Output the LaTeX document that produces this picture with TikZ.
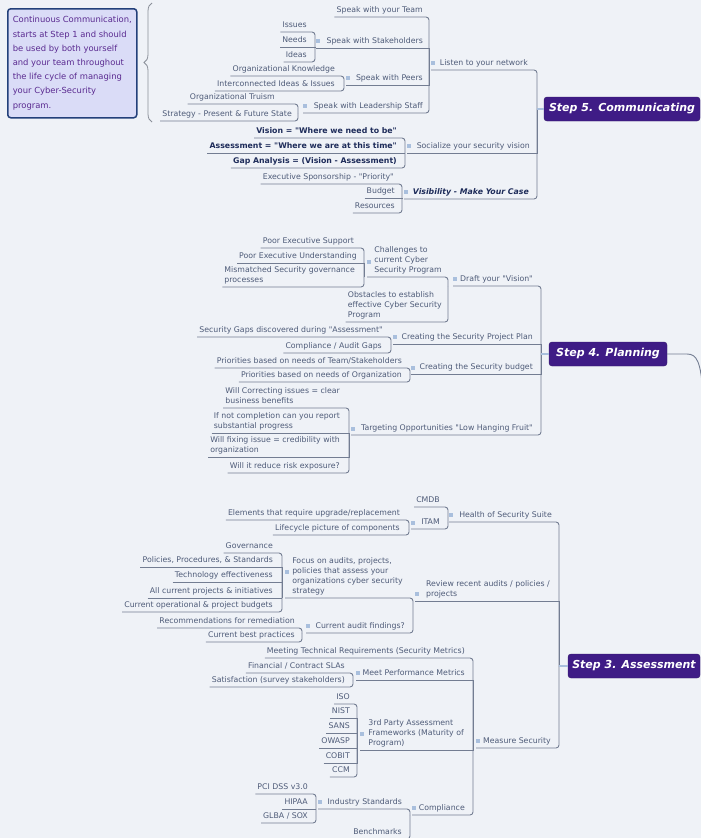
\documentclass[tikz,border=0pt]{standalone}
\usepackage{fontspec}
\usetikzlibrary{decorations.pathreplacing,calc}
\newfontfamily\dvs{DejaVu Sans}
\newcommand\tpfont{\dvs\fontsize{7.8}{10.2}\selectfont}
\newcommand\tbfont{\dvs\bfseries\fontsize{7.8}{10.2}\selectfont}
\newcommand\tbifont{\dvs\bfseries\itshape\fontsize{7.8}{10.2}\selectfont}
\newcommand\stfont{\dvs\bfseries\itshape\fontsize{11}{13}\selectfont}
\newcommand\notefont{\dvs\fontsize{8.4}{14.2}\selectfont}
\definecolor{bgc}{HTML}{EFF2F7}
\definecolor{txt}{HTML}{4E5B78}
\definecolor{btxt}{HTML}{1E2C5A}
\definecolor{lnc}{HTML}{737D92}
\definecolor{mkc}{HTML}{A9BFDD}
\definecolor{stepc}{HTML}{3F1C86}
\definecolor{notec}{HTML}{DADCF7}
\definecolor{noteb}{HTML}{23407A}
\definecolor{notet}{HTML}{5A2A90}
\definecolor{bracec}{HTML}{8A8F99}
\tikzset{
  topic/.style={font=\tpfont, text=txt, inner xsep=2pt, inner ysep=1pt, text depth=3pt, anchor=south east},
  mtopic/.style={font=\tpfont, text=txt, inner xsep=2pt, inner ysep=1pt, align=left, anchor=south east},
  btopic/.style={topic, font=\tbfont, text=btxt},
  bitopic/.style={topic, font=\tbifont, text=btxt},
  mk/.style={fill=mkc, minimum size=3.5pt, inner sep=0pt},
  conn/.style={draw=lnc, line width=0.9pt},
  cend/.style={conn, rounded corners=3pt},
  cmid/.style={conn},
  stub/.style={draw=mkc, line width=2.4pt},
  stepbox/.style={fill=stepc, draw=stepc!80!black, rounded corners=3pt, text=white, font=\stfont, inner sep=0pt, minimum height=24pt},
  notebox/.style={fill=notec, draw=noteb, line width=1.5pt, rounded corners=3pt, text=notet, font=\notefont, align=left, anchor=north west, minimum width=129pt, minimum height=109pt, inner sep=3pt}
}
\begin{document}
\begin{tikzpicture}[x=1pt,y=-1pt]
\useasboundingbox (0,0) rectangle (701,838);
\clip (0,0) rectangle (701,838);
\fill[bgc] (0,0) rectangle (701,838);

% note and brace
\node[notebox] (note) at (7,8) {Continuous Communication,\\starts at Step 1 and should\\be used by both yourself\\and your team throughout\\the life cycle of managing\\your Cyber-Security\\program.};
\coordinate (br-b) at (152,122);
\coordinate (br-t) at (152,3);
\draw[bracec, line width=0.8pt, decorate, decoration={brace, amplitude=8pt}] (br-b) -- (br-t);

% ===== Step 5 =====
\node[stepbox, minimum width=156pt] (s5) at (622,109) {Step 5. Communicating};
\coordinate (s5-v) at (537,109);
\node[topic] (listen) at (530,70) {Listen to your network};
\node[mk] (listen-m) at (433,63) {};
\coordinate (listen-v) at (429,70);
\node[topic] (social) at (532,153) {Socialize your security vision};
\node[mk] (social-m) at (409,146) {};
\coordinate (social-v) at (405,153);
\node[bitopic] (visib) at (531,199) {Visibility - Make Your Case};
\node[mk] (visib-m) at (406,192) {};
\coordinate (visib-v) at (402,199);

\node[topic] (team) at (425,17) {Speak with your Team};
\node[topic] (stake) at (425,48) {Speak with Stakeholders};
\node[mk] (stake-m) at (318,41) {};
\coordinate (stake-v) at (315,48);
\node[topic] (peers) at (425,85) {Speak with Peers};
\node[mk] (peers-m) at (348,78) {};
\coordinate (peers-v) at (344,85);
\node[topic] (lead) at (425,113) {Speak with Leadership Staff};
\node[mk] (lead-m) at (305,106) {};
\coordinate (lead-v) at (298,113);

\node[topic] (issues) at (309,32) {Issues};
\node[topic] (needs) at (309,47) {Needs};
\node[topic] (ideas) at (309,62) {Ideas};
\node[topic] (orgk) at (337,76) {Organizational Knowledge};
\node[topic] (inter) at (337,91) {Interconnected Ideas \& Issues};
\node[topic] (truism) at (277,104) {Organizational Truism};
\node[topic] (strat) at (294,121) {Strategy - Present \& Future State};

\node[btopic] (vision) at (399,138) {Vision = "Where we need to be"};
\node[btopic] (assess) at (399,153) {Assessment = "Where we are at this time"};
\node[btopic] (gap) at (399,168) {Gap Analysis = (Vision - Assessment)};

\node[topic] (exec) at (396,184) {Executive Sponsorship - "Priority"};
\node[topic] (budget) at (397,198) {Budget};
\node[topic] (resources) at (397,213) {Resources};

\draw[cend] (listen-m.west |- listen.south) -| (s5-v);
\draw[cmid] (social-m.west |- social.south) -| (s5-v);
\draw[cend] (visib-m.west |- visib.south) -| (s5-v);
\draw[stub] (s5-v) -- (s5.west);
\draw[cend] (team.south west) -| (listen-v);
\draw[cmid] (stake-m.west |- stake.south) -| (listen-v);
\draw[cmid] (peers-m.west |- peers.south) -| (listen-v);
\draw[cend] (lead-m.west |- lead.south) -| (listen-v);
\draw[cend] (issues.south west) -| (stake-v);
\draw[cmid] (needs.south west) -| (stake-v);
\draw[cend] (ideas.south west) -| (stake-v);
\draw[cend] (orgk.south west) -| (peers-v);
\draw[cend] (inter.south west) -| (peers-v);
\draw[cend] (truism.south west) -| (lead-v);
\draw[cend] (strat.south west) -| (lead-v);
\draw[cend] (vision.south west) -| (social-v);
\draw[cmid] (assess.south west) -| (social-v);
\draw[cend] (gap.south west) -| (social-v);
\draw[cend] (exec.south west) -| (visib-v);
\draw[cmid] (budget.south west) -| (visib-v);
\draw[cend] (resources.south west) -| (visib-v);

% ===== Step 4 =====
\node[stepbox, minimum width=118pt] (s4) at (608,354) {Step 4. Planning};
\coordinate (s4-v) at (541,354);
\coordinate (s4-bend) at (687,354);
\coordinate (s4-out) at (703,395);
\node[topic] (draft) at (535,286) {Draft your "Vision"};
\node[mk] (draft-m) at (455,279) {};
\coordinate (draft-v) at (448,286);
\node[topic] (plan) at (535,344) {Creating the Security Project Plan};
\node[mk] (plan-m) at (395,337) {};
\coordinate (plan-v) at (391,344);
\node[topic] (budg) at (535,374) {Creating the Security budget};
\node[mk] (budg-m) at (413,368) {};
\coordinate (budg-v) at (410,374);
\node[topic] (target) at (535,435) {Targeting Opportunities "Low Hanging Fruit"};
\node[mk] (target-m) at (353,429) {};
\coordinate (target-v) at (349,435);

\node[mtopic] (chall) at (444,277) {Challenges to\\current Cyber\\Security Program\strut};
\node[mk] (chall-m) at (369,262) {};
\coordinate (chall-v) at (364,277);
\node[mtopic] (obst) at (444,322) {Obstacles to establish\\effective Cyber Security\\Program\strut};

\node[topic] (poorsup) at (356,248) {Poor Executive Support};
\node[topic] (poorund) at (359,263) {Poor Executive Understanding};
\node[mtopic] (mism) at (357,287) {Mismatched Security governance\\processes\strut};

\node[topic] (gaps) at (385,337) {Security Gaps discovered during "Assessment"};
\node[topic] (compgaps) at (384,353) {Compliance / Audit Gaps};
\node[topic] (prteam) at (404,368) {Priorities based on needs of Team/Stakeholders};
\node[topic] (prorg) at (404,382) {Priorities based on needs of Organization};

\node[mtopic] (wcorr) at (342,408) {Will Correcting issues = clear\\business benefits\strut};
\node[mtopic] (ifnot) at (342,433) {If not completion can you report\\substantial progress\strut};
\node[mtopic] (wfix) at (342,457) {Will fixing issue = credibility with\\organization\strut};
\node[topic] (wrisk) at (342,473) {Will it reduce risk exposure?};

\draw[cend] (draft-m.west |- draft.south) -| (s4-v);
\draw[cmid] (plan-m.west |- plan.south) -| (s4-v);
\draw[cmid] (budg-m.west |- budg.south) -| (s4-v);
\draw[cend] (target-m.west |- target.south) -| (s4-v);
\draw[stub] (s4-v) -- (s4.west);
\draw[conn] (s4.east) -- (s4-bend) .. controls (697,354) and (701,362) .. (s4-out);
\draw[cend] (chall-m.west |- chall.south) -| (draft-v);
\draw[cend] (obst.south west) -| (draft-v);
\draw[cend] (poorsup.south west) -| (chall-v);
\draw[cmid] (poorund.south west) -| (chall-v);
\draw[cend] (mism.south west) -| (chall-v);
\draw[cend] (gaps.south west) -| (plan-v);
\draw[cend] (compgaps.south west) -| (plan-v);
\draw[cend] (prteam.south west) -| (budg-v);
\draw[cend] (prorg.south west) -| (budg-v);
\draw[cend] (wcorr.south west) -| (target-v);
\draw[cmid] (ifnot.south west) -| (target-v);
\draw[cmid] (wfix.south west) -| (target-v);
\draw[cend] (wrisk.south west) -| (target-v);

% ===== Step 3 =====
\node[stepbox, minimum width=132pt] (s3) at (634,666) {Step 3. Assessment};
\coordinate (s3-v) at (559,666);
\node[topic] (health) at (554,522) {Health of Security Suite};
\node[mk] (health-m) at (451,515) {};
\coordinate (health-v) at (448,522);
\node[mtopic] (review) at (552,601) {Review recent audits / policies /\\projects\strut};
\node[mk] (review-m) at (417,594) {};
\coordinate (review-v) at (413,601);
\node[topic] (measure) at (553,748) {Measure Security};
\node[mk] (measure-m) at (478,741) {};
\coordinate (measure-v) at (473,748);

\node[topic] (cmdb) at (442,507) {CMDB};
\node[topic] (itam) at (442,529) {ITAM};
\node[mk] (itam-m) at (413,523) {};
\coordinate (itam-v) at (409,529);
\node[topic] (elem) at (402,520) {Elements that require upgrade/replacement};
\node[topic] (life) at (402,535) {Lifecycle picture of components};

\node[mtopic] (focus) at (405,598) {Focus on audits, projects,\\policies that assess your\\organizations cyber security\\strategy\strut};
\node[mk] (focus-m) at (287,572) {};
\coordinate (focus-v) at (282,598);
\node[topic] (audit) at (407,633) {Current audit findings?};
\node[mk] (audit-m) at (308,626) {};
\coordinate (audit-v) at (302,633);

\node[topic] (gov) at (275,553) {Governance};
\node[topic] (pol) at (275,567) {Policies, Procedures, \& Standards};
\node[topic] (tech) at (275,582) {Technology effectiveness};
\node[topic] (allproj) at (275,598) {All current projects \& initiatives};
\node[topic] (curop) at (275,612) {Current operational \& project budgets};
\node[topic] (recom) at (297,628) {Recommendations for remediation};
\node[topic] (best) at (297,642) {Current best practices};

\node[topic] (mtr) at (467,658) {Meeting Technical Requirements (Security Metrics)};
\node[topic] (mpm) at (467,680) {Meet Performance Metrics};
\node[mk] (mpm-m) at (358,673) {};
\coordinate (mpm-v) at (353,680);
\node[mtopic] (third) at (466,750) {3rd Party Assessment\\Frameworks (Maturity of\\Program)\strut};
\node[mk] (third-m) at (362,734) {};
\coordinate (third-v) at (357,750);
\node[topic] (compl) at (467,815) {Compliance};
\node[mk] (compl-m) at (414,808) {};
\coordinate (compl-v) at (410,815);

\node[topic] (fin) at (347,673) {Financial / Contract SLAs};
\node[topic] (sat) at (347,687) {Satisfaction (survey stakeholders)};
\node[topic] (iso) at (352,704) {ISO};
\node[topic] (nist) at (352,718) {NIST};
\node[topic] (sans) at (352,733) {SANS};
\node[topic] (owasp) at (352,748) {OWASP};
\node[topic] (cobit) at (352,763) {COBIT};
\node[topic] (ccm) at (352,777) {CCM};
\node[topic] (indstd) at (404,809) {Industry Standards};
\node[mk] (indstd-m) at (320,802) {};
\coordinate (indstd-v) at (316,809);
\node[topic] (bench) at (404,839) {Benchmarks};
\node[topic] (pci) at (310,794) {PCI DSS v3.0};
\node[topic] (hipaa) at (310,809) {HIPAA};
\node[topic] (glba) at (310,823) {GLBA / SOX};

\draw[cend] (health-m.west |- health.south) -| (s3-v);
\draw[cmid] (review-m.west |- review.south) -| (s3-v);
\draw[cend] (measure-m.west |- measure.south) -| (s3-v);
\draw[stub] (s3-v) -- (s3.west);
\draw[cend] (cmdb.south west) -| (health-v);
\draw[cend] (itam-m.west |- itam.south) -| (health-v);
\draw[cend] (elem.south west) -| (itam-v);
\draw[cend] (life.south west) -| (itam-v);
\draw[cend] (focus-m.west |- focus.south) -| (review-v);
\draw[cend] (audit-m.west |- audit.south) -| (review-v);
\draw[cend] (gov.south west) -| (focus-v);
\draw[cmid] (pol.south west) -| (focus-v);
\draw[cmid] (tech.south west) -| (focus-v);
\draw[cmid] (allproj.south west) -| (focus-v);
\draw[cend] (curop.south west) -| (focus-v);
\draw[cend] (recom.south west) -| (audit-v);
\draw[cend] (best.south west) -| (audit-v);
\draw[cend] (mtr.south west) -| (measure-v);
\draw[cmid] (mpm-m.west |- mpm.south) -| (measure-v);
\draw[cmid] (third-m.west |- third.south) -| (measure-v);
\draw[cend] (compl-m.west |- compl.south) -| (measure-v);
\draw[cend] (fin.south west) -| (mpm-v);
\draw[cend] (sat.south west) -| (mpm-v);
\draw[cend] (iso.south west) -| (third-v);
\draw[cmid] (nist.south west) -| (third-v);
\draw[cmid] (sans.south west) -| (third-v);
\draw[cmid] (owasp.south west) -| (third-v);
\draw[cmid] (cobit.south west) -| (third-v);
\draw[cend] (ccm.south west) -| (third-v);
\draw[cend] (indstd-m.west |- indstd.south) -| (compl-v);
\draw[cend] (bench.south west) -| (compl-v);
\draw[cend] (pci.south west) -| (indstd-v);
\draw[cmid] (hipaa.south west) -| (indstd-v);
\draw[cend] (glba.south west) -| (indstd-v);
\end{tikzpicture}
\end{document}
